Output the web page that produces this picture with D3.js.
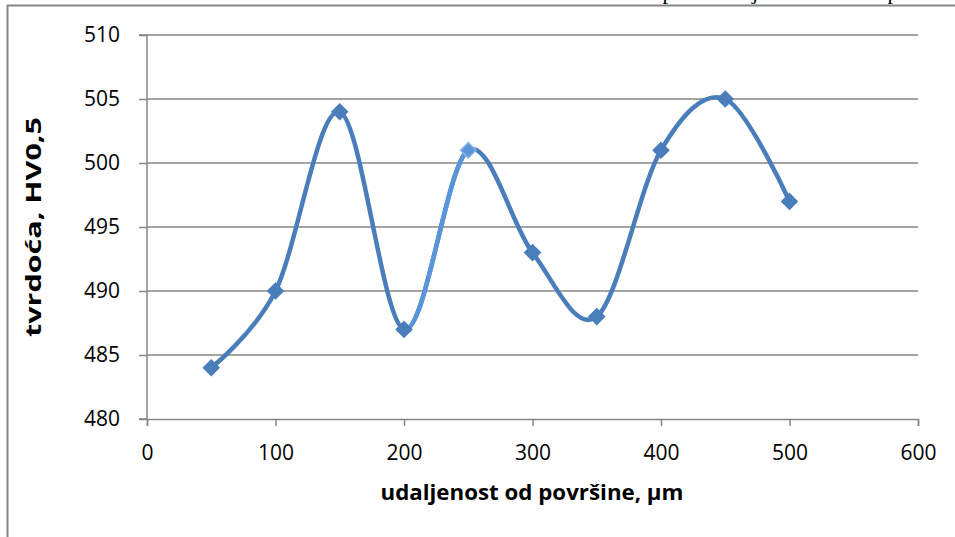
<!DOCTYPE html>
<html><head><meta charset="utf-8">
<script src="https://cdn.jsdelivr.net/npm/d3@7"></script>
<style>body{margin:0;background:#fff}svg{display:block}</style>
</head><body>
<svg id="c" width="955" height="537"></svg>
<script>
const distances = [50, 100, 150, 200, 250, 300, 350, 400, 450, 500];
const hardness = [484, 490, 504, 487, 501, 493, 488, 501, 505, 497];
const xTicks = [0, 100, 200, 300, 400, 500, 600];
const yTicks = [480, 485, 490, 495, 500, 505, 510];
const highlightSegment = [200, 250];
const xTitle = "udaljenost od površine, µm";
const yTitle = "tvrdoća, HV0,5";

const svg = d3.select("#c");
const W = 955, H = 537;
const m = {l: 147, r: 37, t: 35, b: 118};
const x = d3.scaleLinear().domain([0, 600]).range([m.l, W - m.r]);
const y = d3.scaleLinear().domain([480, 510]).range([H - m.b, m.t]);
const grey = "#868686";
const font = "'Open Sans', sans-serif";

// outer frame (left and top)
svg.append("path").attr("d", `M7.5,${H} V5.5 H${W}`).attr("fill", "none").attr("stroke", grey).attr("stroke-width", 2);
// cut-off text fragments above frame
svg.append("g").selectAll("text").data([["p", 668], ["j", 755], ["p", 893]]).join("text")
  .attr("x", d => d[1]).attr("y", -1).attr("text-anchor", "middle")
  .attr("font-family", "'Liberation Serif', serif").attr("font-size", 22).attr("fill", "#000").text(d => d[0]);

// gridlines
svg.append("g").selectAll("line").data(yTicks.slice(1)).join("line")
  .attr("x1", x(0)).attr("x2", x(600)).attr("y1", d => y(d)).attr("y2", d => y(d))
  .attr("stroke", grey).attr("stroke-width", 1.5);

// y axis
const ya = svg.append("g").attr("transform", `translate(${x(0)},0)`)
  .call(d3.axisLeft(y).tickValues(yTicks).tickSize(8).tickPadding(19));
// x axis
const xa = svg.append("g").attr("transform", `translate(0,${y(480)})`)
  .call(d3.axisBottom(x).tickValues(xTicks).tickSize(7).tickPadding(19));
[ya, xa].forEach(a => {
  a.select(".domain").attr("stroke", grey).attr("stroke-width", 1.5);
  a.selectAll(".tick line").attr("stroke", grey).attr("stroke-width", 1.5);
  a.selectAll("text").attr("font-family", font).attr("font-size", 21).attr("fill", "#000");
});
ya.select(".domain").attr("d", `M-8,${y(510)}H0V${y(480)}H-8`);

// titles
svg.append("text").attr("x", 532).attr("y", 500).attr("text-anchor", "middle")
  .attr("font-family", font).attr("font-weight", "bold").attr("font-size", 21)
  .attr("textLength", 303).attr("lengthAdjust", "spacingAndGlyphs").text(xTitle);
svg.append("text").attr("transform", `translate(41,${(y(480) + y(510)) / 2}) rotate(-90)`)
  .attr("text-anchor", "middle").attr("font-family", font).attr("font-weight", "bold").attr("font-size", 22)
  .attr("textLength", 220).attr("lengthAdjust", "spacingAndGlyphs").text(yTitle);

const data = distances.map((d, i) => ({d, v: hardness[i]}));
const line = d3.line().x(p => x(p.d)).y(p => y(p.v)).curve(d3.curveCardinal.tension(0));
const main = "#4A7EBB", light = "#5A95DA";

svg.append("path").attr("d", line(data)).attr("fill", "none").attr("stroke", main)
  .attr("stroke-width", 4.5).attr("stroke-linejoin", "round");
svg.append("clipPath").attr("id", "seg").append("rect")
  .attr("x", x(highlightSegment[0])).attr("y", 0)
  .attr("width", x(highlightSegment[1]) - x(highlightSegment[0])).attr("height", H);
svg.append("path").attr("d", line(data)).attr("fill", "none").attr("stroke", light)
  .attr("stroke-width", 4.5).attr("clip-path", "url(#seg)");

const sym = d3.symbol().type(d3.symbolSquare).size(120);
svg.append("g").selectAll("path").data(data).join("path")
  .attr("d", sym)
  .attr("transform", p => `translate(${x(p.d)},${y(p.v)}) rotate(45)`)
  .attr("fill", p => p.d === highlightSegment[1] ? "#5A95DA" : main)
  .attr("stroke", p => p.d === highlightSegment[1] ? "#8DB4E2" : main)
  .attr("stroke-width", 1.5);
</script>
</body></html>
